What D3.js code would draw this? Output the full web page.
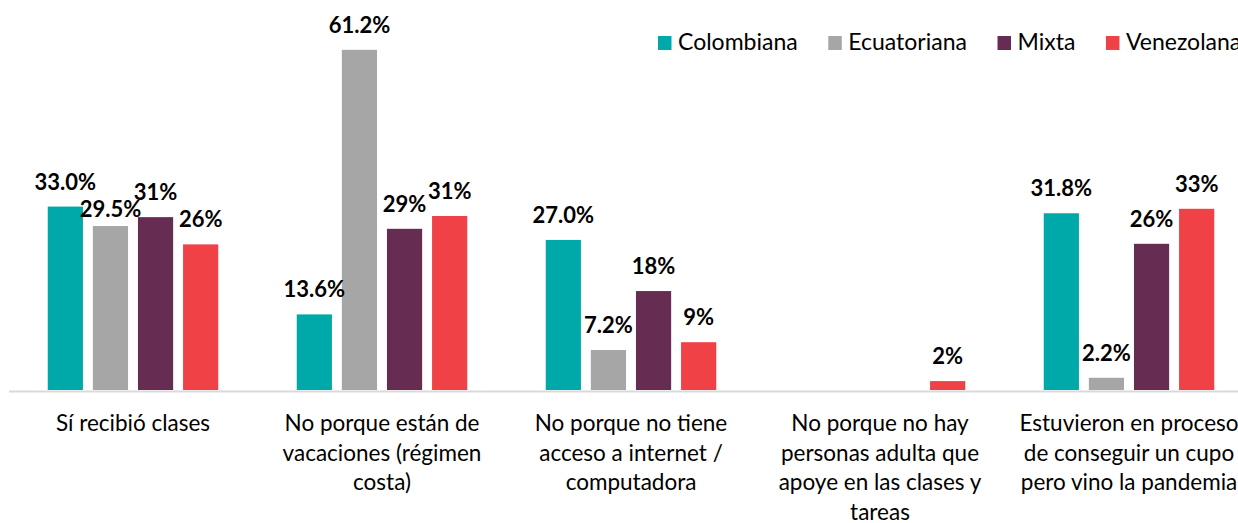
<!DOCTYPE html>
<html>
<head>
<meta charset="utf-8">
<script src="https://cdn.jsdelivr.net/npm/d3@7"></script>
<style>
  body { margin: 0; background: #fff; }
  svg { display: block; overflow: hidden; font-family: Lato, "Open Sans", sans-serif; }
</style>
</head>
<body>
<div id="chart"></div>
<script>
const categories = [
  'Sí recibió clases',
  'No porque están de vacaciones (régimen costa)',
  'No porque no tiene acceso a internet / computadora',
  'No porque no hay personas adulta que apoye en las clases y tareas',
  'Estuvieron en proceso de conseguir un cupo pero vino la pandemia'
];
const categoryLines = [
  ['Sí recibió clases'],
  ['No porque están de', 'vacaciones (régimen', 'costa)'],
  ['No porque no tiene', 'acceso a internet /', 'computadora'],
  ['No porque no hay', 'personas adulta que', 'apoye en las clases y', 'tareas'],
  ['Estuvieron en proceso', 'de conseguir un cupo', 'pero vino la pandemia']
];
const series = ['Colombiana', 'Ecuatoriana', 'Mixta', 'Venezolana'];
const colombiana = [33.0, 13.6, 27.0, null, 31.8];
const ecuatoriana = [29.5, 61.2, 7.2, null, 2.2];
const mixta = [31.1, 29.0, 17.8, null, 26.3];
const venezolana = [26.2, 31.3, 8.6, 1.6, 32.6];
const labelDecimals = [1, 1, 0, 0];
const colors = ['#00a9a9', '#a6a6a6', '#662c52', '#ef4146'];

const values = [colombiana, ecuatoriana, mixta, venezolana];
const width = 1238, height = 523;
const baseline = 390;

const svg = d3.select('#chart').append('svg')
  .attr('width', width)
  .attr('height', height);

const x0 = d3.scaleBand()
  .domain(categories)
  .range([8.5, 1253.5]);

const x1 = d3.scaleBand()
  .domain(series)
  .range([-85.25, 85.25])
  .paddingInner(0.22);

const y = d3.scaleLinear()
  .domain([0, 60])
  .range([baseline, baseline - 333.5]);

const color = d3.scaleOrdinal().domain(series).range(colors);

const rows = [];
categories.forEach((c, i) => {
  series.forEach((s, j) => {
    if (values[j][i] != null) rows.push({ cat: c, ser: s, v: values[j][i], dec: labelDecimals[j] });
  });
});

const cx = c => x0(c) + x0.bandwidth() / 2;

// bars
svg.append('g')
  .selectAll('rect')
  .data(rows)
  .join('rect')
  .attr('x', d => cx(d.cat) + x1(d.ser))
  .attr('y', d => y(d.v))
  .attr('width', x1.bandwidth())
  .attr('height', d => y(0) - y(d.v))
  .attr('fill', d => color(d.ser));

// axis
const axis = svg.append('g')
  .attr('transform', `translate(0,${baseline + 1})`)
  .call(d3.axisBottom(x0).tickSize(0).tickSizeOuter(0).tickFormat(''));
axis.select('.domain').attr('stroke', '#d9d9d9').attr('stroke-width', 2);

axis.selectAll('.tick text').remove();
axis.selectAll('.tick')
  .append('text')
  .attr('fill', '#000')
  .attr('font-size', 22.5)
  .attr('text-anchor', 'middle')
  .attr('font-family', 'Lato, sans-serif')
  .each(function (d, i) {
    d3.select(this).selectAll('tspan')
      .data(categoryLines[i])
      .join('tspan')
      .attr('x', 0)
      .attr('y', (l, k) => 40 + k * 29.5)
      .text(l => l);
  });

// value labels (one label nudged down, as in the original)
const nudge = { 'Sí recibió clases|Ecuatoriana': 8 };
svg.append('g')
  .selectAll('text')
  .data(rows)
  .join('text')
  .attr('x', d => cx(d.cat) + x1(d.ser) + x1.bandwidth() / 2)
  .attr('y', d => y(d.v) - 17 + (nudge[d.cat + '|' + d.ser] || 0))
  .attr('text-anchor', 'middle')
  .attr('font-size', 22)
  .attr('font-weight', 'bold')
  .attr('fill', '#000')
  .text(d => d.v.toFixed(d.dec) + '%');

// legend
const legend = svg.append('g').attr('transform', 'translate(658,43)');
let lx = 0;
series.forEach((s, i) => {
  const g = legend.append('g').attr('transform', `translate(${lx},0)`);
  g.append('rect')
    .attr('x', 0).attr('y', -7)
    .attr('width', 13.5).attr('height', 14)
    .attr('fill', colors[i]);
  const t = g.append('text')
    .attr('x', 20).attr('y', 7)
    .attr('font-size', 23)
    .attr('fill', '#000')
    .text(s);
  lx += 20 + t.node().getComputedTextLength() + 30.6;
});
</script>
</body>
</html>
